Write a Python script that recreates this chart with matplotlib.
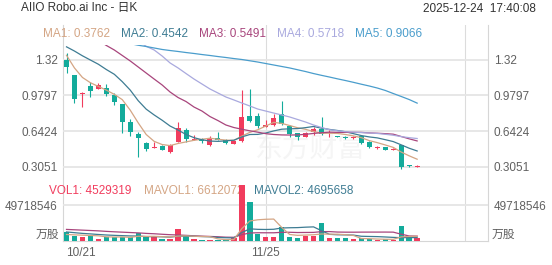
import numpy as np
import matplotlib.pyplot as plt

plt.rcParams['font.family'] = ['Liberation Sans', 'Noto Sans CJK SC', 'DejaVu Sans']
plt.rcParams['font.size'] = 8.5

W, H = 552, 265

title = 'AIIO Robo.ai Inc - 日K'
stamp = '2025-12-24  17:40:08'
date_ticks = [0, 25]
date_labels = ['10/21', '11/25']
price_ticks = [1.32, 0.9797, 0.6424, 0.3051]
price_labels = ['1.32', '0.9797', '0.6424', '0.3051']
vol_tick = 49718546
vol_unit = '万股'

# daily candles 10/21 .. 12/23
opens = [1.32, 1.173, 0.991, 1.072, 1.041, 1.053, 0.984, 0.896, 0.725, 0.612,
         0.527, 0.480, 0.504, 0.441, 0.542, 0.653, 0.562, 0.567, 0.511, 0.574,
         0.558, 0.523, 0.551, 0.788, 0.785, 0.684, 0.700, 0.804, 0.693, 0.621,
         0.589, 0.636, 0.665, 0.620, 0.596, 0.589, 0.578, 0.596, 0.542, 0.483,
         0.489, 0.465, 0.511, 0.320, 0.302]
highs = [1.379, 1.173, 1.015, 1.11, 1.095, 1.085, 1.006, 0.896, 0.757, 0.631,
         0.542, 0.542, 0.510, 0.520, 0.731, 0.674, 0.605, 0.574, 0.599, 0.631,
         0.567, 0.555, 1.031, 1.038, 0.810, 0.747, 0.804, 0.930, 0.700, 0.627,
         0.630, 0.678, 0.778, 0.650, 0.600, 0.592, 0.595, 0.600, 0.545, 0.500,
         0.492, 0.480, 0.515, 0.325, 0.322]
lows = [1.19, 0.905, 0.873, 0.968, 1.038, 0.974, 0.889, 0.627, 0.599, 0.400,
        0.454, 0.479, 0.460, 0.432, 0.536, 0.542, 0.555, 0.527, 0.504, 0.558,
        0.523, 0.520, 0.542, 0.731, 0.674, 0.677, 0.693, 0.700, 0.584, 0.558,
        0.585, 0.605, 0.605, 0.584, 0.585, 0.570, 0.572, 0.520, 0.480, 0.475,
        0.460, 0.460, 0.280, 0.305, 0.298]
closes = [1.247, 0.943, 1.006, 1.025, 1.079, 0.990, 0.920, 0.731, 0.637, 0.574,
          0.473, 0.492, 0.466, 0.511, 0.674, 0.567, 0.570, 0.549, 0.574, 0.561,
          0.533, 0.551, 0.778, 0.738, 0.690, 0.700, 0.763, 0.709, 0.612, 0.584,
          0.627, 0.659, 0.615, 0.625, 0.587, 0.574, 0.585, 0.527, 0.489, 0.489,
          0.463, 0.472, 0.305, 0.312, 0.314]

nan = np.nan
ma1 = [1.36, 1.24, 1.15, 1.10, 1.065, 1.03, 0.99, 0.94, 0.84, 0.72,
       0.61, 0.545, 0.515, 0.505, 0.525, 0.54, 0.555, 0.565, 0.575, 0.565,
       0.557, 0.554, 0.595, 0.63, 0.655, 0.69, 0.725, 0.715, 0.695, 0.674,
       0.659, 0.638, 0.622, 0.622, 0.62, 0.61, 0.597, 0.58, 0.552, 0.533,
       0.511, 0.488, 0.444, 0.408, 0.376]
ma2 = [1.44, 1.40, 1.355, 1.315, 1.275, 1.225, 1.18, 1.11, 1.03, 0.93,
       0.85, 0.795, 0.745, 0.69, 0.652, 0.61, 0.58, 0.56, 0.548, 0.545,
       0.55, 0.556, 0.587, 0.61, 0.611, 0.624, 0.644, 0.66, 0.664, 0.666,
       0.675, 0.686, 0.67, 0.658, 0.648, 0.636, 0.618, 0.60, 0.587, 0.578,
       0.561, 0.543, 0.512, 0.48, 0.454]
ma3 = [nan, nan, nan, nan, 1.50, 1.453, 1.41, 1.358, 1.306, 1.249,
       1.192, 1.135, 1.079, 1.012, 0.96, 0.922, 0.87, 0.832, 0.78, 0.742,
       0.70, 0.676, 0.66, 0.645, 0.632, 0.618, 0.61, 0.606, 0.605, 0.606,
       0.612, 0.62, 0.627, 0.632, 0.63, 0.63, 0.63, 0.63, 0.625, 0.622,
       0.618, 0.613, 0.591, 0.569, 0.549]
ma4 = [nan, nan, nan, nan, nan, nan, nan, nan, nan, 1.49,
       1.445, 1.41, 1.353, 1.287, 1.24, 1.187, 1.135, 1.088, 1.041, 1.003,
       0.965, 0.937, 0.908, 0.88, 0.851, 0.832, 0.813, 0.795, 0.776, 0.752,
       0.728, 0.70, 0.676, 0.655, 0.645, 0.637, 0.632, 0.628, 0.624, 0.62,
       0.612, 0.603, 0.59, 0.58, 0.572]
ma5 = [nan, nan, nan, nan, nan, nan, nan, nan, 1.47, 1.455,
       1.443, 1.429, 1.415, 1.405, 1.396, 1.386, 1.377, 1.367, 1.358, 1.348,
       1.339, 1.329, 1.32, 1.308, 1.296, 1.282, 1.268, 1.254, 1.24, 1.223,
       1.206, 1.187, 1.17, 1.154, 1.137, 1.121, 1.104, 1.086, 1.069, 1.05,
       1.027, 0.998, 0.97, 0.941, 0.907]
ma_names = ['MA1', 'MA2', 'MA3', 'MA4', 'MA5']
ma_last = ['0.3762', '0.4542', '0.5491', '0.5718', '0.9066']

# volume, millions of shares
vol_m = [12.8, 6.9, 5.1, 8.3, 2.8, 5.9, 5.1, 5.9, 5.1, 10.6,
         5.1, 5.9, 3.2, 3.2, 16.6, 6.9, 2.8, 1.8, 1.8, 1.4,
         1.4, 3.7, 77.3, 54.3, 9.7, 5.1, 5.1, 19.7, 5.5, 3.5,
         7.2, 7.2, 24.9, 4.1, 3.7, 3.7, 2.1, 3.5, 2.8, 1.4,
         2.1, 1.7, 20.7, 5.5, 4.53]
mavol1_m = [9.0, 8.5, 8.0, 7.6, 7.18, 5.8, 5.44, 5.6, 4.96, 6.52,
            6.36, 6.52, 5.98, 5.6, 6.8, 7.16, 6.54, 6.26, 5.98, 2.94,
            1.84, 2.02, 17.1, 27.6, 29.3, 30.0, 30.3, 18.8, 9.0, 7.8,
            8.2, 8.6, 9.7, 9.4, 9.4, 8.7, 7.7, 3.4, 3.2, 2.7,
            2.4, 2.3, 5.7, 6.3, 6.61]
mavol2_m = [12.5, 11.5, 10.5, 9.8, 9.0, 8.3, 7.8, 7.4, 7.0, 6.85,
            6.08, 5.98, 5.79, 5.28, 6.66, 6.76, 6.53, 6.12, 5.79, 4.87,
            4.5, 4.28, 11.69, 16.8, 16.1, 15.9, 16.2, 17.95, 18.3, 18.5,
            19.1, 19.5, 14.2, 9.2, 8.6, 8.46, 8.16, 6.54, 6.27, 6.06,
            5.55, 5.0, 4.58, 4.72, 4.70]
mavol3_m = [16.0, 15.5, 15.0, 14.5, 14.0, 13.3, 12.7, 12.2, 11.7, 11.2,
            10.5, 10.0, 9.3, 8.7, 8.3, 7.8, 7.2, 6.7, 6.3, 5.86,
            5.29, 5.13, 8.74, 11.04, 11.39, 11.35, 11.35, 12.0, 12.06, 11.7,
            11.8, 11.87, 12.96, 13.0, 12.36, 12.2, 12.16, 12.25, 12.3, 12.3,
            12.33, 12.23, 9.4, 6.96, 6.7]
vol_legend = [('VOL1: 4529319', 49), ('MAVOL1: 6612072', 144), ('MAVOL2: 4695658', 254)]

up_c = '#f13c5d'
dn_c = '#13ab9b'
ma_colors = ['#d4a584', '#3e7c93', '#a8457c', '#a9a9de', '#4a9dcc']
grid_c = '#e5e5e5'
txt_c = '#606060'

x = np.arange(len(closes))
o = np.array(opens); c = np.array(closes)
hi = np.array(highs); lo = np.array(lows)
up = c >= o
cols = np.where(up, up_c, dn_c)
xlim = (-0.44, 52.89)

fig = plt.figure(figsize=(W / 100, H / 100), dpi=100)

def box(l, t, r, b):
    return [l / W, 1 - b / H, (r - l) / W, (b - t) / H]

# frame + vertical grid
ax_bg = fig.add_axes(box(63, 25, 488, 241))
ax_bg.set_xlim(xlim)
ax_bg.set_ylim(0, 1)
ax_bg.set_xticks([25, 50])
ax_bg.grid(axis='x', color='#dcdcdc', lw=0.8)
ax_bg.tick_params(length=0, labelbottom=False, labelleft=False)
ax_bg.set_yticks([])
for s in ['top', 'bottom']:
    ax_bg.spines[s].set_visible(False)
for s in ['left', 'right']:
    ax_bg.spines[s].set_color('#d6d6d6')
    ax_bg.spines[s].set_linewidth(0.8)
ax_bg.text(0.58, 0.42, '东方财富', transform=ax_bg.transAxes, fontsize=20,
           color='#f5f5f5', ha='center', va='center', zorder=0)

# price panel
ax = fig.add_axes(box(63, 45, 488, 175))
ax.patch.set_alpha(0)
ax.set_xlim(xlim)
ax.set_ylim(0.2266, 1.4573)
for s in ax.spines.values():
    s.set_visible(False)
ax.set_xticks([])
ax.set_yticks(price_ticks)
ax.set_yticklabels(price_labels)
ax.tick_params(axis='y', length=0, labelleft=True, labelright=True, pad=4,
               labelcolor=txt_c, labelsize=8.5)
ax.grid(axis='y', color=grid_c, lw=1.3)
ax.set_axisbelow(True)

ax.vlines(x, lo, hi, colors=cols, lw=0.8, zorder=2)
body = np.maximum(np.abs(c - o), 0.006)
ax.bar(x, body, bottom=np.minimum(o, c), width=0.63, color=cols, zorder=3)
for vals, col in zip([ma1, ma2, ma3, ma4, ma5], ma_colors):
    ax.plot(x, vals, color=col, lw=0.9, zorder=4)

# volume panel
axv = fig.add_axes(box(63, 180, 488, 241))
axv.patch.set_alpha(0)
axv.set_xlim(xlim)
axv.set_ylim(0, 84.25e6)
for s in ['top', 'left', 'right']:
    axv.spines[s].set_visible(False)
axv.spines['bottom'].set_color('#d6d6d6')
axv.spines['bottom'].set_linewidth(0.8)
axv.set_yticks([vol_tick])
axv.set_yticklabels([str(vol_tick)])
axv.tick_params(axis='y', length=0, labelleft=True, labelright=True, pad=4,
                labelcolor=txt_c, labelsize=8.5)
axv.grid(axis='y', color=grid_c, lw=1.3)
axv.set_xticks(date_ticks)
axv.set_xticklabels(date_labels)
axv.tick_params(axis='x', length=0, pad=4, labelcolor=txt_c, labelsize=8.5)
axv.get_xticklabels()[0].set_horizontalalignment('left')
axv.set_axisbelow(True)

axv.bar(x, np.array(vol_m) * 1e6, width=0.68, color=cols, zorder=3)
axv.plot(x, np.array(mavol3_m) * 1e6, color=ma_colors[2], lw=0.9, zorder=4)
axv.plot(x, np.array(mavol2_m) * 1e6, color=ma_colors[1], lw=0.9, zorder=4)
axv.plot(x, np.array(mavol1_m) * 1e6, color=ma_colors[0], lw=0.9, zorder=4)

ytr = axv.get_yaxis_transform()
axv.text(-0.0094, 0, vol_unit, transform=ytr, ha='right', va='bottom',
         color=txt_c, fontsize=8.5)
axv.text(1.0094, 0, vol_unit, transform=ytr, ha='left', va='bottom',
         color=txt_c, fontsize=8.5)

# volume legend (under the bars)
for (label, px), col in zip(vol_legend, [up_c, ma_colors[0], ma_colors[1]]):
    axv.text((px - 63) / 425, (241 - 191.5) / 61, label, transform=axv.transAxes,
             color=col, fontsize=8.5, va='center', ha='left', clip_on=False, zorder=1)

# header texts
fig.text(21 / W, 1 - 8.5 / H, title, color='#333333', fontsize=8.5, va='center')
fig.text(536 / W, 1 - 8.5 / H, stamp, color='#333333', fontsize=8.5,
         va='center', ha='right')
for k, (name, val) in enumerate(zip(ma_names, ma_last)):
    fig.text((43 + 78 * k) / W, 1 - 34 / H, f'{name}: {val}', color=ma_colors[k],
             fontsize=8.5, va='center')

fig.savefig('out.png', dpi=100, facecolor='white')
